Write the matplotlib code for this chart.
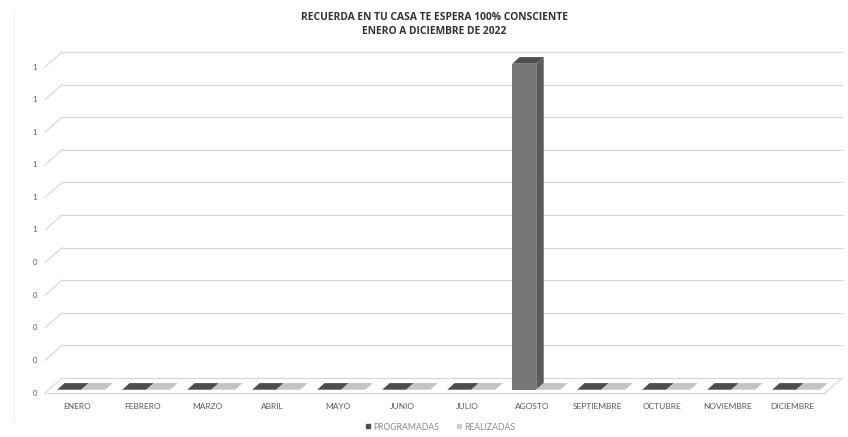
import matplotlib
matplotlib.use('Agg')
import matplotlib.pyplot as plt
from matplotlib.patches import Polygon
from matplotlib.lines import Line2D

# ---------------- data ----------------
months = ['ENERO', 'FEBRERO', 'MARZO', 'ABRIL', 'MAYO', 'JUNIO', 'JULIO',
          'AGOSTO', 'SEPTIEMBRE', 'OCTUBRE', 'NOVIEMBRE', 'DICIEMBRE']
programadas = [0, 0, 0, 0, 0, 0, 0, 1, 0, 0, 0, 0]
realizadas = [0, 0, 0, 0, 0, 0, 0, 0, 0, 0, 0, 0]
series_names = ['PROGRAMADAS', 'REALIZADAS']
ytick_values = [0.0, 0.1, 0.2, 0.3, 0.4, 0.5, 0.6, 0.7, 0.8, 0.9, 1.0]
ytick_labels = ['0', '0', '0', '0', '0', '1', '1', '1', '1', '1', '1']
title_lines = ['RECUERDA EN TU CASA TE ESPERA 100% CONSCIENTE',
               'ENERO A DICIEMBRE DE 2022']

# ---------------- styling / geometry ----------------
W, H = 848, 437
FONT = ['Lato', 'DejaVu Sans']
TFONT = ['Open Sans', 'DejaVu Sans']
FL, FB = 45, 393          # front-left x, front-bottom y (pixels from top)
CAT_PX = 65               # pixels per category
VAL_PX = 326              # pixels per value unit (front plane)
DEPTH_PX = (17, 15)       # oblique depth offset (right, up)
n = len(months)

fig = plt.figure(figsize=(W / 100, H / 100), dpi=100)
fig.patch.set_facecolor('white')
ax_w = n * CAT_PX + DEPTH_PX[0]
ax_h = VAL_PX * max(ytick_values) + DEPTH_PX[1]
ax = fig.add_axes([FL / W, (H - FB) / H, ax_w / W, ax_h / H])
DX = DEPTH_PX[0] / CAT_PX
DY = DEPTH_PX[1] / VAL_PX
ax.set_xlim(0, n + DX)
ax.set_ylim(0, max(ytick_values) + DY)
ax.axis('off')

grid_c = '#d6d6d6'
# back wall gridlines + diagonal connectors
for v, lab in zip(ytick_values, ytick_labels):
    ax.plot([0, DX], [v, v + DY], color=grid_c, lw=0.8, clip_on=False, zorder=1)
    ax.plot([DX, n + DX], [v + DY, v + DY], color=grid_c, lw=0.8, clip_on=False, zorder=1)
    ax.annotate(lab, (0, v), xytext=(-6, 0), textcoords='offset points',
                ha='right', va='center', fontsize=5.5, color='#595959', family=FONT)
# floor
ax.plot([0, n], [0, 0], color=grid_c, lw=0.8, clip_on=False, zorder=1)
ax.plot([n, n + DX], [0, DY], color=grid_c, lw=0.8, clip_on=False, zorder=1)

# bars
bw = 0.37
f0, f1 = 0.22, 0.66   # depth span of bars (fraction)
styles = [
    dict(front='#777777', top='#4e4e4e', side='#5c5c5c'),
    dict(front='#cfcfcf', top='#c4c4c4', side='#b0b0b0'),
]


def draw_bar(x0, x1, h, st):
    ax0, ay0 = f0 * DX, f0 * DY
    ax1, ay1 = f1 * DX, f1 * DY
    # front
    ax.add_patch(Polygon([(x0 + ax0, ay0), (x1 + ax0, ay0), (x1 + ax0, h + ay0), (x0 + ax0, h + ay0)],
                         closed=True, facecolor=st['front'], edgecolor='none', zorder=3, clip_on=False))
    # side
    ax.add_patch(Polygon([(x1 + ax0, ay0), (x1 + ax1, ay1), (x1 + ax1, h + ay1), (x1 + ax0, h + ay0)],
                         closed=True, facecolor=st['side'], edgecolor='none', zorder=3, clip_on=False))
    # top
    ax.add_patch(Polygon([(x0 + ax0, h + ay0), (x1 + ax0, h + ay0), (x1 + ax1, h + ay1), (x0 + ax1, h + ay1)],
                         closed=True, facecolor=st['top'], edgecolor='none', zorder=3, clip_on=False))


for i in range(n):
    c = i + 0.5
    draw_bar(c - bw, c, programadas[i], styles[0])
    draw_bar(c, c + bw, realizadas[i], styles[1])
    ax.annotate(months[i], (c, 0), xytext=(0, -10), textcoords='offset points',
                ha='center', va='center', fontsize=6, color='#595959', family=FONT)

# title
fig.text(0.512, 1 - 17 / H, title_lines[0], ha='center', va='center', fontsize=7.4,
         fontweight='bold', color='#333333', family=TFONT)
fig.text(0.512, 1 - 31 / H, title_lines[1], ha='center', va='center', fontsize=7.4,
         fontweight='bold', color='#333333', family=TFONT)

# legend
handles = [Line2D([], [], marker='s', ls='none', markersize=3.5, color=styles[0]['top']),
           Line2D([], [], marker='s', ls='none', markersize=3.5, color=styles[1]['front'])]
leg = fig.legend(handles, series_names, loc='center', bbox_to_anchor=(440 / W, 1 - 427 / H),
                 ncol=2, frameon=False, handletextpad=0.2, columnspacing=2.0,
                 handlelength=0.8, prop={'family': FONT, 'size': 6.2})
for t in leg.get_texts():
    t.set_color('#8a8a8a')

# faint chart border on the left
fig.add_artist(Line2D([14 / W, 14 / W], [1 - 420 / H, 1 - 10 / H], color='#eeeeee', lw=0.8))

fig.savefig('out.png', dpi=100, facecolor='white')
